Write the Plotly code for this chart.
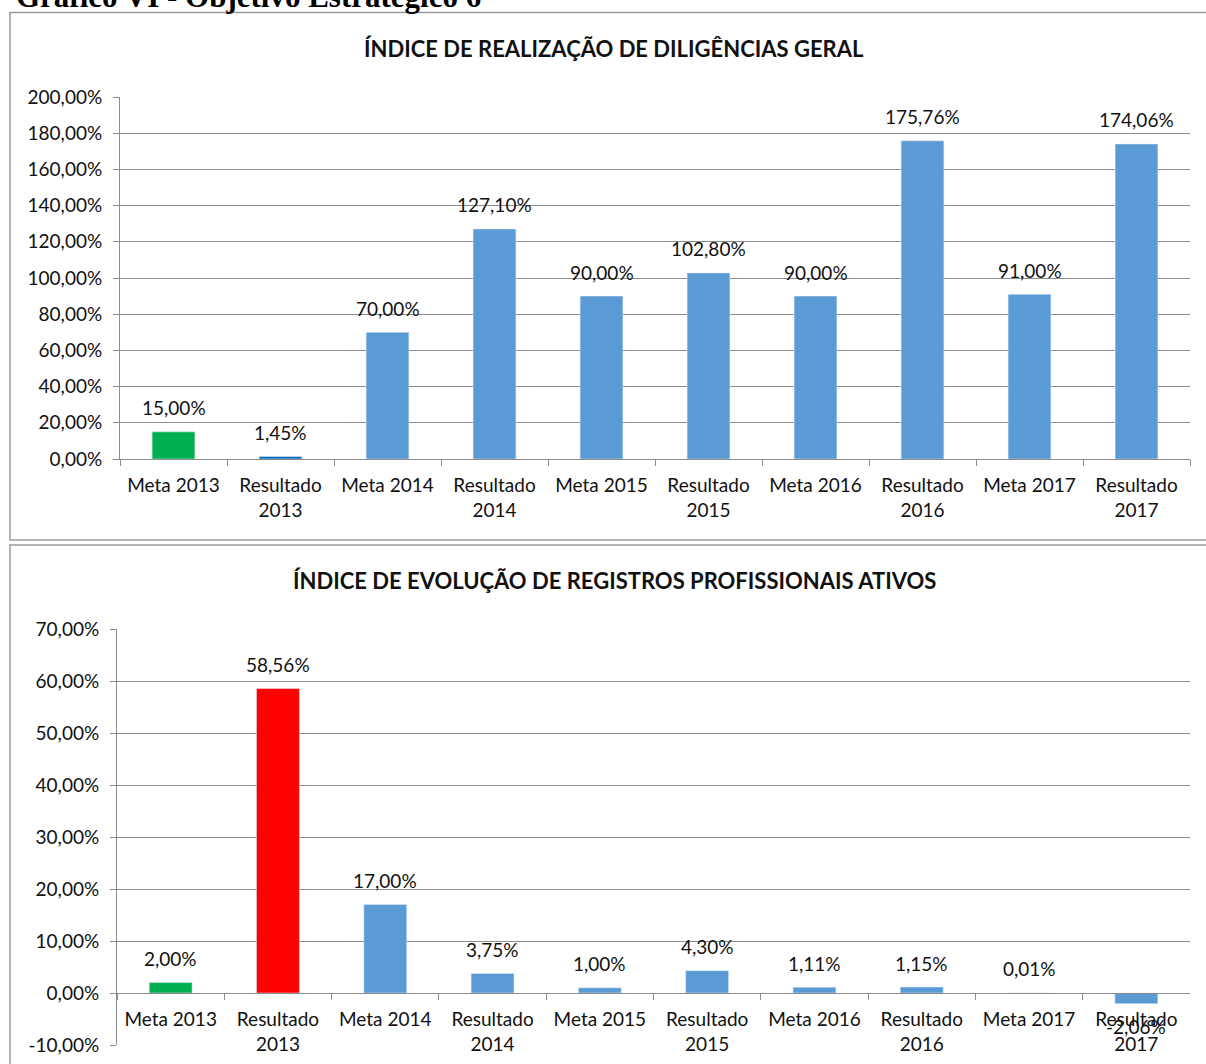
import plotly.graph_objects as go

categories = ["Meta 2013", "Resultado 2013", "Meta 2014", "Resultado 2014", "Meta 2015",
              "Resultado 2015", "Meta 2016", "Resultado 2016", "Meta 2017", "Resultado 2017"]
tick_labels = ["Meta 2013", "Resultado<br>2013", "Meta 2014", "Resultado<br>2014", "Meta 2015",
               "Resultado<br>2015", "Meta 2016", "Resultado<br>2016", "Meta 2017", "Resultado<br>2017"]

diligencias = [15.00, 1.45, 70.00, 127.10, 90.00, 102.80, 90.00, 175.76, 91.00, 174.06]
registros = [2.00, 58.56, 17.00, 3.75, 1.00, 4.30, 1.11, 1.15, 0.01, -2.06]

y1_ticks = [0, 20, 40, 60, 80, 100, 120, 140, 160, 180, 200]
y2_ticks = [-10, 0, 10, 20, 30, 40, 50, 60, 70]

title_main = "Gráfico VI - Objetivo Estratégico 6"
title1 = "ÍNDICE DE REALIZAÇÃO DE DILIGÊNCIAS GERAL"
title2 = "ÍNDICE DE EVOLUÇÃO DE REGISTROS PROFISSIONAIS ATIVOS"

GREEN = "#00B050"
BLUE = "#5B9BD5"
DARKBLUE = "#0070C0"
RED = "#FF0000"
colors1 = [GREEN, DARKBLUE] + [BLUE] * 8
colors2 = [GREEN, RED] + [BLUE] * 8

W, H = 1206, 1064
def px(x): return x / W
def py(y): return 1 - y / H

FONT = "Lato"
FS = 19
GRID = "#8C8C8C"
TXT = "#111111"

def fmt(v):
    return f"{v:.2f}".replace(".", ",") + "%"

fig = go.Figure()
fig.add_trace(go.Bar(x=categories, y=diligencias, marker_color=colors1, width=0.4,
                     xaxis="x", yaxis="y", showlegend=False, hoverinfo="x+y"))
fig.add_trace(go.Bar(x=categories, y=registros, marker_color=colors2, width=0.4,
                     xaxis="x2", yaxis="y2", showlegend=False, hoverinfo="x+y"))

axis_common = dict(showline=True, linecolor=GRID, linewidth=1, ticks="outside",
                   tickcolor=GRID, ticklen=6, automargin=False,
                   tickfont=dict(family=FONT, size=FS, color=TXT))

annotations = [
    dict(text="<b>" + title_main + "</b>", xref="paper", yref="paper", x=px(14), y=py(-3),
         xanchor="left", yanchor="middle", showarrow=False,
         font=dict(family="Liberation Serif", size=31, color="black")),
    dict(text="<b>" + title1 + "</b>", xref="paper", yref="paper", x=px(614), y=py(49),
         xanchor="center", yanchor="middle", showarrow=False,
         font=dict(family=FONT, size=22, color=TXT)),
    dict(text="<b>" + title2 + "</b>", xref="paper", yref="paper", x=px(614), y=py(580),
         xanchor="center", yanchor="middle", showarrow=False,
         font=dict(family=FONT, size=22, color=TXT)),
]

for xr, yr, vals in (("x", "y", diligencias), ("x2", "y2", registros)):
    for c, v in zip(categories, vals):
        annotations.append(dict(
            text=fmt(v), xref=xr, yref=yr, x=c, y=v, xanchor="center", yanchor="middle",
            yshift=24 if v >= 0 else -23, showarrow=False,
            font=dict(family=FONT, size=FS, color=TXT)))

fig.update_layout(
    width=W, height=H, margin=dict(l=0, r=0, t=0, b=0, autoexpand=False),
    paper_bgcolor="white", plot_bgcolor="white",
    xaxis=dict(domain=[px(120), px(1190)], anchor="y", type="category",
               tickmode="array", tickvals=categories, ticktext=tick_labels,
               tickson="boundaries", ticklabelstandoff=9, **axis_common),
    yaxis=dict(domain=[py(459), py(97)], anchor="x", range=[0, 200],
               tickmode="array", tickvals=y1_ticks, ticktext=[fmt(t) for t in y1_ticks],
               showgrid=True, gridcolor=GRID, zeroline=False, ticklabelstandoff=7,
               **axis_common),
    xaxis2=dict(domain=[px(117), px(1190)], anchor="free", position=py(993),
                type="category", tickmode="array", tickvals=categories, ticktext=tick_labels,
                tickson="boundaries", ticklabelstandoff=9, **axis_common),
    yaxis2=dict(domain=[py(1045), py(629)], anchor="x2", range=[-10, 70],
                tickmode="array", tickvals=y2_ticks, ticktext=[fmt(t) for t in y2_ticks],
                showgrid=True, gridcolor=GRID, zeroline=False, ticklabelstandoff=7,
                **axis_common),
    shapes=[
        dict(type="rect", xref="paper", yref="paper", x0=px(10), x1=px(1215),
             y0=py(540), y1=py(12.5), line=dict(color="#9A9A9A", width=1.5)),
        dict(type="rect", xref="paper", yref="paper", x0=px(10), x1=px(1215),
             y0=py(1100), y1=py(545), line=dict(color="#9A9A9A", width=1.5)),
    ],
    annotations=annotations,
)

fig.write_html("out.html", config={"displayModeBar": False})

with open("out.html", "r", encoding="utf-8") as f:
    html = f.read()
html = html.replace("<head>", "<head><style>html,body{margin:0;padding:0;overflow:hidden;}</style>", 1)
with open("out.html", "w", encoding="utf-8") as f:
    f.write(html)
